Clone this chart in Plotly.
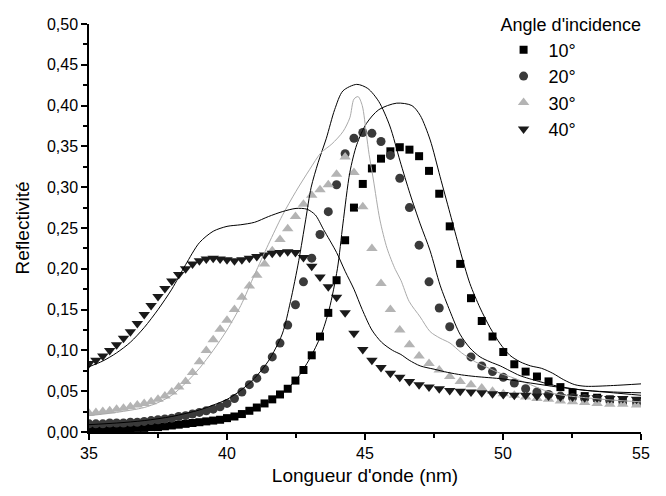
import plotly.graph_objects as go

# measured points (shared wavelength grid, nm)
WAVELENGTH = [35.00, 35.25, 35.50, 35.75, 36.00, 36.25, 36.50, 36.75, 37.00, 37.25,
              37.50, 37.75, 38.00, 38.25, 38.50, 38.75, 39.00, 39.25, 39.50, 39.75,
              40.00, 40.27, 40.54, 40.81, 41.08, 41.36, 41.64, 41.92, 42.20, 42.48,
              42.77, 43.07, 43.37, 43.67, 43.97, 44.28, 44.60, 44.92, 45.25, 45.58,
              45.92, 46.26, 46.61, 46.96, 47.32, 47.69, 48.07, 48.45, 48.84, 49.23,
              49.62, 50.01, 50.41, 50.82, 51.23, 51.65, 52.08, 52.52, 52.96, 53.41,
              53.87, 54.34, 54.84]

R_10 = [0.002, 0.003, 0.003, 0.003, 0.004, 0.004, 0.004, 0.005, 0.005, 0.006,
        0.006, 0.007, 0.008, 0.009, 0.010, 0.011, 0.012, 0.013, 0.014, 0.015,
        0.017, 0.019, 0.022, 0.026, 0.030, 0.035, 0.040, 0.046, 0.053, 0.063,
        0.076, 0.094, 0.117, 0.146, 0.186, 0.235, 0.275, 0.304, 0.323, 0.335,
        0.344, 0.349, 0.346, 0.338, 0.320, 0.292, 0.252, 0.206, 0.164, 0.136,
        0.117, 0.098, 0.083, 0.074, 0.068, 0.062, 0.055, 0.048, 0.044, 0.042,
        0.040, 0.038, 0.037]

R_20 = [0.010, 0.010, 0.010, 0.011, 0.011, 0.011, 0.012, 0.012, 0.013, 0.014,
        0.015, 0.016, 0.017, 0.019, 0.020, 0.022, 0.024, 0.026, 0.028, 0.031,
        0.035, 0.041, 0.049, 0.058, 0.066, 0.077, 0.092, 0.109, 0.131, 0.156,
        0.184, 0.213, 0.242, 0.270, 0.303, 0.341, 0.360, 0.367, 0.366, 0.356,
        0.339, 0.311, 0.275, 0.229, 0.184, 0.152, 0.129, 0.109, 0.092, 0.081,
        0.074, 0.067, 0.060, 0.053, 0.049, 0.046, 0.044, 0.042, 0.041, 0.040,
        0.039, 0.038, 0.037]

R_30 = [0.023, 0.024, 0.025, 0.026, 0.028, 0.029, 0.031, 0.033, 0.035, 0.037,
        0.040, 0.044, 0.049, 0.055, 0.062, 0.073, 0.086, 0.100, 0.113, 0.126,
        0.137, 0.150, 0.165, 0.179, 0.192, 0.206, 0.222, 0.236, 0.249, 0.264,
        0.279, 0.290, 0.297, 0.303, 0.316, 0.337, 0.318, 0.276, 0.225, 0.182,
        0.150, 0.125, 0.107, 0.093, 0.084, 0.076, 0.068, 0.062, 0.058, 0.054,
        0.050, 0.047, 0.045, 0.043, 0.041, 0.040, 0.038, 0.037, 0.036, 0.035,
        0.034, 0.034, 0.033]

R_40 = [0.084, 0.088, 0.093, 0.100, 0.107, 0.115, 0.123, 0.133, 0.144, 0.155,
        0.166, 0.176, 0.185, 0.193, 0.200, 0.206, 0.210, 0.212, 0.213, 0.212,
        0.211, 0.210, 0.211, 0.213, 0.215, 0.217, 0.219, 0.220, 0.221, 0.220,
        0.214, 0.203, 0.190, 0.178, 0.165, 0.146, 0.121, 0.101, 0.088, 0.079,
        0.072, 0.067, 0.062, 0.058, 0.055, 0.053, 0.051, 0.050, 0.049, 0.048,
        0.047, 0.046, 0.045, 0.045, 0.044, 0.044, 0.043, 0.043, 0.042, 0.042,
        0.041, 0.041, 0.040]

# simulated curves
L10_X = [35, 36, 37, 38, 39, 40, 40.5, 41, 41.5, 42, 42.5, 43, 43.4, 43.7, 44.0,
         44.2, 44.45, 44.7, 45.05, 45.5, 46.15, 46.7, 47.0, 47.36, 47.72, 48.08,
         48.44, 48.8, 49.17, 49.53, 49.9, 50.25, 50.62, 51.0, 51.4, 51.8, 52.2,
         52.6, 53.0, 54.0, 55.0]
L10_Y = [0.003, 0.004, 0.006, 0.009, 0.013, 0.018, 0.022, 0.029, 0.037, 0.048,
         0.064, 0.090, 0.118, 0.150, 0.200, 0.255, 0.318, 0.352, 0.378, 0.395,
         0.403, 0.400, 0.388, 0.358, 0.313, 0.268, 0.223, 0.182, 0.152, 0.128,
         0.108, 0.094, 0.086, 0.081, 0.078, 0.072, 0.064, 0.058, 0.056, 0.057,
         0.059]

L20_X = [35, 36, 37, 38, 39, 39.5, 40, 40.5, 41, 41.5, 42, 42.3, 42.6, 42.85,
         43.05, 43.3, 43.6, 43.9, 44.2, 44.7, 45.1, 45.5, 45.9, 46.27, 46.63,
         47.0, 47.36, 47.72, 48.08, 48.44, 48.8, 49.17, 49.53, 49.9, 50.25,
         50.62, 51.3, 52.0, 53.0, 54.0, 55.0]
L20_Y = [0.009, 0.011, 0.014, 0.019, 0.027, 0.033, 0.040, 0.051, 0.066, 0.087,
         0.120, 0.160, 0.210, 0.260, 0.300, 0.330, 0.360, 0.395, 0.418, 0.426,
         0.421, 0.405, 0.375, 0.332, 0.292, 0.255, 0.222, 0.180, 0.148, 0.120,
         0.103, 0.092, 0.086, 0.081, 0.075, 0.069, 0.062, 0.056, 0.051, 0.049,
         0.048]

L30_X = [35, 36, 37, 37.5, 38, 38.5, 39, 39.5, 40, 40.5, 41, 41.5, 42, 42.5, 43,
         43.4, 43.8, 44.2, 44.45, 44.6, 44.75, 44.9, 45.05, 45.15, 45.3, 45.54,
         45.8, 46.1, 46.3, 46.6, 47.0, 47.36, 47.72, 48.08, 48.5, 49.0, 49.5,
         49.9, 50.4, 51.0, 51.5, 52.0, 53.0, 54.0, 55.0]
L30_Y = [0.020, 0.024, 0.030, 0.036, 0.045, 0.060, 0.078, 0.100, 0.125, 0.155,
         0.193, 0.230, 0.265, 0.295, 0.322, 0.342, 0.353, 0.368, 0.385, 0.408,
         0.411, 0.400, 0.365, 0.340, 0.310, 0.260, 0.225, 0.199, 0.186, 0.160,
         0.141, 0.123, 0.115, 0.109, 0.097, 0.086, 0.078, 0.072, 0.066, 0.058,
         0.051, 0.046, 0.042, 0.039, 0.037]

L40_X = [35, 35.5, 36, 36.5, 37, 37.5, 38, 38.5, 39, 39.5, 40, 40.5, 41, 41.5, 42,
         42.5, 42.9, 43.2, 43.5, 43.97, 44.28, 44.6, 44.9, 45.25, 45.6, 46.0,
         46.3, 46.6, 47.0, 47.5, 48.0, 48.5, 49.0, 50.0, 51.0, 52.0, 53.0, 54.0,
         55.0]
L40_Y = [0.080, 0.087, 0.097, 0.110, 0.128, 0.150, 0.175, 0.205, 0.232, 0.246,
         0.252, 0.254, 0.257, 0.264, 0.270, 0.274, 0.273, 0.266, 0.248, 0.220,
         0.197, 0.175, 0.150, 0.125, 0.110, 0.100, 0.095, 0.088, 0.081, 0.077,
         0.073, 0.070, 0.068, 0.065, 0.060, 0.055, 0.051, 0.048, 0.045]

FONT = "Liberation Sans, Arial, sans-serif"

fig = go.Figure()

series = [
    ("10°", R_10, "square", "#000000", 8),
    ("20°", R_20, "circle", "#3a3a3a", 9),
    ("30°", R_30, "triangle-up", "#b4b4b4", 10),
    ("40°", R_40, "triangle-down", "#1a1a1a", 10),
]
for name, vals, sym, col, size in series:
    fig.add_trace(go.Scatter(x=WAVELENGTH, y=vals, mode="markers", name=name,
                             marker=dict(symbol=sym, color=col, size=size,
                                         line=dict(width=0))))

curves = [(L10_X, L10_Y, "#000000"), (L20_X, L20_Y, "#000000"),
          (L30_X, L30_Y, "#aaaaaa"), (L40_X, L40_Y, "#000000")]
for xs, ys, col in curves:
    fig.add_trace(go.Scatter(x=xs, y=ys, mode="lines", showlegend=False,
                             hoverinfo="skip",
                             line=dict(color=col, width=1, shape="spline", smoothing=0.8)))

axis_common = dict(showgrid=False, zeroline=False, showline=True, linecolor="black",
                   linewidth=1.5, ticks="outside", ticklen=6, tickwidth=1.5,
                   tickcolor="black", tickfont=dict(size=16, color="black"),
                   automargin=False)

fig.update_xaxes(range=[35, 55], tick0=35, dtick=5,
                 minor=dict(dtick=2.5, ticks="outside", ticklen=4, tickwidth=1.5,
                            tickcolor="black"),
                 title=dict(text="Longueur d'onde (nm)", font=dict(size=19, color="black"),
                            standoff=8),
                 **axis_common)
fig.update_yaxes(range=[0, 0.5], tick0=0, dtick=0.05, tickformat=".2f",
                 minor=dict(dtick=0.025, ticks="outside", ticklen=4, tickwidth=1.5,
                            tickcolor="black"),
                 title=dict(text="Reflectivité", font=dict(size=19, color="black"),
                            standoff=12),
                 **axis_common)

# the page body keeps an 8px margin, so the figure is 8px smaller than the window
fig.update_layout(
    width=658, height=488,
    margin=dict(l=81, r=25, t=16, b=64, autoexpand=False),
    plot_bgcolor="white", paper_bgcolor="white",
    font=dict(family=FONT, color="black"),
    separators=", ",
    legend=dict(title=dict(text="Angle d'incidence", font=dict(size=18)),
                font=dict(size=18), x=0.742, xanchor="left", y=1.039, yanchor="top",
                bgcolor="rgba(0,0,0,0)", itemwidth=40, tracegroupgap=0),
)

fig.write_html("out.html")
